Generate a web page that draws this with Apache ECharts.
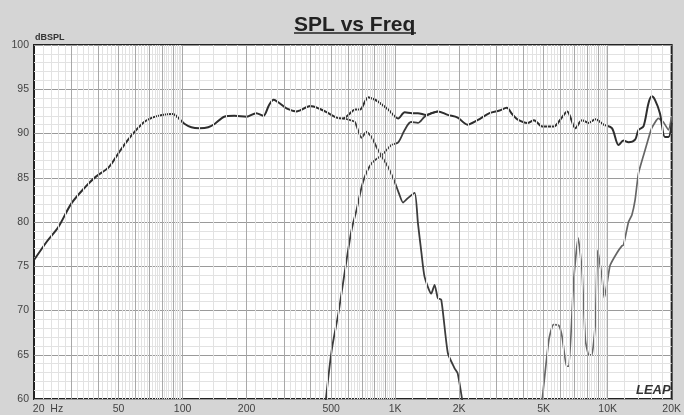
<!DOCTYPE html>
<html lang="en">
<head>
    <meta charset="UTF-8">
    <title>SPL vs Freq</title>
    <style>
        html, body { margin: 0; padding: 0; background: #d5d5d5; }
        #main { width: 684px; height: 415px; }
    </style>
</head>
<body>
<div id="main"></div>
<script src="https://cdn.jsdelivr.net/npm/echarts@6/dist/echarts.min.js"></script>
<script>
    // total response
    var totalFreq = [20, 23, 26, 30, 35, 39, 45, 50, 55, 60, 66, 72, 80, 90, 96, 102, 110, 120, 132, 142,
        157, 175, 200, 222, 240, 255, 268, 283, 310, 345, 399, 440, 485, 530, 570, 615, 647, 683, 747, 790,
        832, 927, 1034, 1109, 1200, 1280, 1400, 1589, 1770, 1969, 2190, 2440, 2780, 3100, 3350, 3550, 3760,
        4190, 4500, 4920, 5580, 6000, 6450, 7050, 7570, 8140, 8750, 9570, 10470, 11250, 11870, 12530, 13460,
        13960, 14740, 15550, 16110, 16690, 17610, 18590, 19320, 20000];
    var totalSpl = [75.7, 77.8, 79.4, 82.1, 84.0, 85.1, 86.2, 87.8, 89.2, 90.3, 91.3, 91.8, 92.1, 92.2, 91.7, 91.1, 90.7, 90.6, 90.7, 91.1,
        91.9, 92.0, 91.9, 92.3, 92.0, 93.2, 93.8, 93.5, 92.8, 92.5, 93.1, 92.8, 92.3, 91.8, 91.7, 92.3, 92.7, 92.7, 94.1, 93.9,
        93.6, 92.7, 91.7, 92.4, 92.3, 92.3, 92.1, 92.5, 92.1, 91.8, 91.0, 91.5, 92.3, 92.6, 92.9, 92.2, 91.6,
        91.2, 91.5, 90.8, 90.8, 91.6, 92.5, 90.6, 91.5, 91.2, 91.6, 91.0, 90.6, 88.7, 89.2, 89.0, 89.3,
        90.4, 90.8, 93.4, 94.2, 93.8, 92.3, 89.6, 89.6, 91.2];

    // woofer roll-off
    var wooferFreq = [570, 615, 647, 695, 733, 774, 832, 927, 1000, 1040, 1089, 1148, 1236, 1280, 1330, 1376,
        1479, 1533, 1589, 1649, 1770, 1902, 1969, 2080];
    var wooferSpl = [91.7, 91.5, 91.3, 89.5, 90.2, 89.6, 88.1, 86.2, 84.4, 83.3, 82.2, 82.7, 83.3, 79.9, 76.5, 73.8,
        71.9, 72.9, 71.4, 71.2, 65.2, 63.5, 62.9, 59.5];

    // mid rise
    var midFreq = [470, 503, 541, 591, 624, 659, 708, 774, 870, 960, 1034, 1109, 1188, 1280, 1376, 1479, 1589];
    var midSpl = [59.5, 65.5, 69.7, 75.7, 79.1, 81.4, 84.6, 86.6, 87.6, 88.7, 89.0, 90.4, 91.3, 91.2, 91.9, 92.3, 92.5];

    // tweeter
    var tweeterFreq = [4900, 5290, 5550, 5890, 6110, 6400, 6570, 6920, 7260, 7570, 7850, 8140, 8430, 8750, 8970,
        9400, 9640, 9910, 10270, 11050, 11670, 11870, 12530, 13000, 13460, 13960, 14990, 16110, 17310, 18270, 19320, 20000];
    var tweeterSpl = [59.5, 66.7, 68.4, 68.3, 67.0, 63.7, 63.7, 73.4, 78.2, 74.6, 66.7, 65.0, 65.0, 68.6, 76.8,
        73.8, 71.4, 72.9, 75.1, 76.5, 77.3, 77.4, 80.0, 80.8, 82.5, 85.5, 88.1, 90.6, 91.7, 91.3, 90.4, 91.9];

    var xLabels = [20, 50, 100, 200, 500, 1000, 2000, 5000, 10000, 20000];

    function zip(f, v) {
        var out = [];
        for (var i = 0; i < f.length; i++) out.push([f[i], v[i]]);
        return out;
    }

    // vertical grid: integer multiples darker, every 2 units lighter
    var vLines = [];
    [10, 100, 1000, 10000].forEach(function (dec) {
        for (var m = 10; m < 100; m += 2) {
            var f = m * dec / 10;
            if (f <= 20 || f >= 20000) continue;
            var strong = (m % 10 === 0);
            vLines.push({
                xAxis: f,
                lineStyle: {color: strong ? '#a8a8a8' : '#e2e2e2', width: 1, type: 'solid'}
            });
        }
    });

    var myChart = echarts.init(document.getElementById('main'));

    var option = {
        backgroundColor: '#d5d5d5',
        animation: false,
        title: {
            text: 'SPL vs Freq',
            left: 289,
            top: 10,
            textStyle: {
                fontFamily: 'Liberation Sans, Arial',
                fontSize: 21,
                fontWeight: 'bold',
                color: '#222'
            }
        },
        graphic: [
            {
                type: 'line',
                shape: {x1: 294, y1: 33, x2: 416, y2: 33},
                style: {stroke: '#222', lineWidth: 1.5}
            },
            {
                type: 'text',
                left: 35,
                top: 33,
                style: {text: 'dBSPL', font: 'bold 9px Liberation Sans', fill: '#333'}
            },
            {
                type: 'text',
                left: 636,
                top: 384,
                z: 10,
                style: {text: 'LEAP', font: 'italic bold 13px Liberation Sans', fill: '#333'}
            }
        ],
        grid: {
            left: 34,
            right: 9,
            top: 45,
            bottom: 16,
            show: true,
            backgroundColor: '#fff',
            borderColor: '#222',
            borderWidth: 2
        },
        xAxis: {
            type: 'log',
            logBase: 10,
            min: 20,
            max: 20000,
            axisLine: {show: false},
            axisTick: {show: false},
            splitLine: {show: false},
            axisLabel: {
                customValues: xLabels,
                margin: 5,
                color: '#444',
                fontSize: 10.5,
                fontFamily: 'Liberation Sans, Arial',
                formatter: function (v) {
                    if (v === 20) return '{l|20  Hz}';
                    if (v >= 1000) return (v / 1000) + 'K';
                    return '' + v;
                },
                rich: {
                    l: {padding: [0, 0, 0, 28], color: '#444', fontSize: 10.5, fontFamily: 'Liberation Sans, Arial'}
                }
            }
        },
        yAxis: {
            type: 'value',
            min: 60,
            max: 100,
            interval: 5,
            axisLine: {show: false},
            axisTick: {show: false},
            axisLabel: {
                margin: 5,
                color: '#444',
                fontSize: 10.5,
                fontFamily: 'Liberation Sans, Arial'
            },
            splitLine: {lineStyle: {color: '#9a9a9a', width: 1}},
            minorTick: {show: false, splitNumber: 5},
            minorSplitLine: {show: true, lineStyle: {color: '#e2e2e2', width: 1}}
        },
        series: [
            {
                type: 'line',
                data: [],
                silent: true,
                z: 1,
                markLine: {
                    silent: true,
                    symbol: 'none',
                    label: {show: false},
                    animation: false,
                    data: vLines
                }
            },
            {
                name: 'Mid',
                type: 'line',
                data: zip(midFreq, midSpl),
                showSymbol: false,
                smooth: 0.3,
                z: 3,
                lineStyle: {color: '#3c3c3c', width: 1.8}
            },
            {
                name: 'Woofer',
                type: 'line',
                data: zip(wooferFreq, wooferSpl),
                showSymbol: false,
                smooth: 0.2,
                z: 3,
                lineStyle: {color: '#3c3c3c', width: 1.8}
            },
            {
                name: 'Tweeter',
                type: 'line',
                data: zip(tweeterFreq, tweeterSpl),
                showSymbol: false,
                smooth: 0.15,
                z: 3,
                lineStyle: {color: '#666', width: 1.7}
            },
            {
                name: 'Total',
                type: 'line',
                data: zip(totalFreq, totalSpl),
                showSymbol: false,
                smooth: 0.3,
                z: 4,
                lineStyle: {color: '#2e2e2e', width: 2}
            }
        ]
    };
    myChart.setOption(option);
</script>
</body>
</html>
